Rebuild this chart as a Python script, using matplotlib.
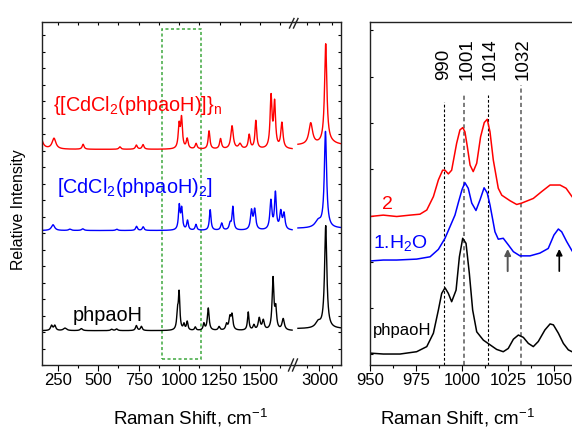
import numpy as np
import matplotlib
matplotlib.use('Agg')
import matplotlib.pyplot as plt
from matplotlib.lines import Line2D
from matplotlib.patches import Rectangle
from matplotlib.ticker import MultipleLocator, FixedLocator, NullFormatter

plt.rcParams['font.family'] = ['Liberation Sans', 'DejaVu Sans']
plt.rcParams['mathtext.default'] = 'regular'

# ---------------- data: left panel (peak position cm-1, height, FWHM) --------------
red_base_low = 13.07
red_peaks_low = [(140, 1.0, 30), (227, 0.65, 28), (407, 0.3, 14), (634, 0.15, 14),
                 (736, 0.25, 14), (777, 0.28, 14), (1000, 1.4, 13), (1015, 1.8, 13),
                 (1050, 0.6, 14), (1105, 0.33, 14), (1185, 1.1, 13), (1256, 0.62, 14),
                 (1327, 1.4, 18), (1376, 0.3, 20), (1433, 0.85, 14), (1474, 1.7, 13),
                 (1568, 3.1, 14), (1590, 2.7, 14), (1635, 1.55, 16)]
red_base_high = 13.32
red_peaks_high = [(2965, 1.3, 18), (3026, 6.0, 11), (3040, 0.15, 60)]

blue_base_low = 8.15
blue_peaks_low = [(221, 0.35, 24), (325, 0.08, 18), (405, 0.1, 18), (615, 0.08, 15),
                  (737, 0.25, 13), (778, 0.22, 13), (1001, 1.45, 12), (1016, 1.25, 12),
                  (1052, 0.58, 12), (1104, 0.35, 12), (1192, 1.25, 12), (1263, 0.43, 14),
                  (1315, 0.38, 14), (1332, 1.4, 12), (1447, 1.15, 15), (1467, 1.2, 15),
                  (1567, 1.75, 15), (1595, 2.2, 13), (1628, 1.05, 15), (1648, 0.95, 15)]
blue_base_high = 8.28
blue_peaks_high = [(2995, 0.4, 30), (3025, 5.8, 11)]

black_base_low = 2.08
black_peaks_low = [(212, 0.3, 15), (232, 0.3, 15), (295, 0.15, 24), (396, 0.12, 18),
                   (583, 0.08, 15), (614, 0.1, 15), (736, 0.3, 13), (767, 0.25, 13),
                   (990, 1.0, 11), (1000, 2.2, 11), (1030, 0.35, 11), (1050, 0.52, 11),
                   (1100, 0.2, 11), (1153, 0.4, 11), (1180, 1.35, 13), (1247, 0.22, 13),
                   (1293, 0.35, 13), (1314, 0.75, 15), (1327, 0.85, 13), (1427, 1.1, 11),
                   (1462, 0.3, 13), (1495, 0.72, 15), (1520, 0.58, 15), (1580, 3.1, 13),
                   (1597, 1.2, 13), (1643, 0.68, 17)]
black_base_high = 2.2
black_peaks_high = [(2995, 0.35, 25), (3026, 6.2, 11)]

# ---------------- data: right panel (sampled curves) ----------------
red_x = [950, 957.2, 964.5, 971.7, 977.1, 980.8, 984.4, 987.1, 989.4, 990.7, 992.5, 994.3,
         997, 998.8, 1000.3, 1001.5, 1002.8, 1004.3, 1006, 1007.9, 1010, 1012, 1013.6,
         1015.1, 1016.9, 1019.6, 1021.5, 1026, 1029.6, 1032.3, 1038.6, 1043.2, 1047.7,
         1053.1, 1056.4, 1059.6]
red_y = [2.98, 3.01, 2.98, 3.01, 3.03, 3.12, 3.41, 3.77, 3.98, 3.98, 3.90, 3.98,
         4.56, 4.85, 4.90, 4.81, 4.49, 4.09, 3.95, 4.13, 4.70, 5.01, 5.08,
         4.81, 4.20, 3.59, 3.44, 3.32, 3.24, 3.27, 3.37, 3.52, 3.66,
         3.66, 3.59, 3.41]

blue_x = [950, 957.2, 964.5, 975.3, 982.6, 987.1, 990.7, 993.4, 996.1, 998, 1000, 1001.5,
          1003.3, 1005.2, 1007.5, 1009.7, 1011.9, 1013.6, 1015.1, 1016.6, 1017.8, 1019.6,
          1022.3, 1025, 1027.8, 1031.4, 1036.8, 1042.2, 1046.7, 1049.8, 1052.2, 1054,
          1056.7, 1059.6]
blue_y = [2.02, 2.04, 2.04, 2.06, 2.11, 2.27, 2.51, 2.76, 3.01, 3.29, 3.57, 3.71,
          3.59, 3.27, 3.11, 3.34, 3.60, 3.49, 3.23, 2.91, 2.65, 2.49,
          2.51, 2.37, 2.22, 2.13, 2.13, 2.19, 2.29, 2.58, 2.71, 2.65,
          2.44, 2.24]

black_x = [950, 957.2, 966.3, 975.3, 980.8, 984.4, 987.1, 988.9, 990.7, 992.5, 994.3, 996.7,
           998.5, 1000.3, 1002.1, 1003.9, 1005.7, 1007.9, 1011.5, 1015.1, 1018.7, 1022.3,
           1025, 1027.8, 1030.5, 1033.2, 1035.9, 1038.6, 1041.3, 1044.9, 1047.7, 1049.5,
           1052.2, 1054.9, 1057.6, 1059.6]
black_y = [0.03, 0.01, 0.01, 0.06, 0.17, 0.46, 0.96, 1.32, 1.44, 1.32, 1.14, 1.39,
           2.11, 2.51, 2.40, 1.75, 0.96, 0.49, 0.31, 0.21, 0.11, 0.06,
           0.13, 0.33, 0.42, 0.37, 0.24, 0.17, 0.28, 0.53, 0.66, 0.64,
           0.46, 0.24, 0.10, 0.06]

marker_lines = [990, 1001, 1014, 1032]
marker_labels = ['990', '1001', '1014', '1032']
arrow_x = [1024.7, 1052.7]


def spectrum(x, base, peaks):
    y = np.full_like(x, base, dtype=float)
    for p, h, w in peaks:
        y += h / (1.0 + ((x - p) / (w / 2.0)) ** 2)
    return y


W, H = 572, 429
fig = plt.figure(figsize=(W / 100, H / 100), dpi=100)


def px_axes(x0, x1, y0, y1):
    return fig.add_axes([x0 / W, 1 - y1 / H, (x1 - x0) / W, (y1 - y0) / H])


ax1 = px_axes(42, 295, 22, 365)
ax2 = px_axes(295, 340.7, 22, 365)
ax3 = px_axes(370, 572, 22, 365)

lw_sp = 1.0
x_low = np.linspace(153, 1698, 4000)
x_high = np.linspace(2913, 3087, 800)
for base_l, pk_l, base_h, pk_h, col in [
        (red_base_low, red_peaks_low, red_base_high, red_peaks_high, '#ff0000'),
        (blue_base_low, blue_peaks_low, blue_base_high, blue_peaks_high, '#0000ff'),
        (black_base_low, black_peaks_low, black_base_high, black_peaks_high, '#000000')]:
    ax1.plot(x_low, spectrum(x_low, base_l, pk_l), color=col, lw=lw_sp)
    ax2.plot(x_high, spectrum(x_high, base_h, pk_h), color=col, lw=lw_sp)

ax1.set_xlim(153, 1716)
ax2.set_xlim(2901, 3087)
for a in (ax1, ax2):
    a.set_ylim(0, 20.79)
    a.yaxis.set_major_locator(MultipleLocator(1))
    a.yaxis.set_major_formatter(NullFormatter())
    for s in a.spines.values():
        s.set_linewidth(1.0)
        s.set_color('#222222')
ax1.spines['right'].set_visible(False)
ax2.spines['left'].set_visible(False)
ax1.tick_params(axis='y', direction='in', length=2.2, width=0.8, left=True, right=False)
ax2.tick_params(axis='y', direction='in', length=2.2, width=0.8, left=False, right=True)

ax1.xaxis.set_major_locator(FixedLocator([250, 500, 750, 1000, 1250, 1500]))
ax1.xaxis.set_minor_locator(FixedLocator([375, 625, 875, 1125, 1375, 1625]))
ax2.xaxis.set_major_locator(FixedLocator([3000]))
ax2.xaxis.set_minor_locator(FixedLocator([2950, 3050]))
for a in (ax1, ax2, ax3):
    a.tick_params(axis='x', which='major', direction='out', length=4.5, width=0.8,
                  labelsize=12, pad=1.5, top=False)
    a.tick_params(axis='x', which='minor', direction='out', length=2.5, width=0.8, top=False)
    sec = a.secondary_xaxis('top')
    sec.xaxis.set_major_locator(FixedLocator(a.xaxis.get_majorticklocs()))
    sec.xaxis.set_minor_locator(FixedLocator(a.xaxis.get_minorticklocs()))
    sec.tick_params(which='both', direction='in', length=2.2, width=0.8, labeltop=False)
    sec.spines['top'].set_visible(False)

# green dotted box
ax1.add_patch(Rectangle((892.6, 0.345), 1133.6 - 892.6, 20.35 - 0.345, fill=False,
                        edgecolor='#3fa83f', lw=1.1, linestyle=(0, (2, 1.6))))

# left panel labels
ax1.text(221, 15.39, '{[CdCl$_2$(phpaoH)]}$_n$', color='#ff0000', fontsize=14.3,
         ha='left', va='baseline')
ax1.text(244, 10.44, '[CdCl$_2$(phpaoH)$_2$]', color='#0000ff', fontsize=14.3,
         ha='left', va='baseline')
ax1.text(343, 2.68, 'phpaoH', color='#000000', fontsize=14.3, ha='left', va='baseline')

# right panel
ax3.plot(red_x, red_y, color='#ff0000', lw=1.1)
ax3.plot(blue_x, blue_y, color='#0000ff', lw=1.1)
ax3.plot(black_x, black_y, color='#000000', lw=1.1)
ax3.set_xlim(950, 1059.6)
ax3.set_ylim(-0.227, 7.181)
ax3.xaxis.set_major_locator(MultipleLocator(25))
ax3.xaxis.set_minor_locator(MultipleLocator(12.5))
ax3.yaxis.set_major_locator(MultipleLocator(1))
ax3.yaxis.set_major_formatter(NullFormatter())
ax3.tick_params(axis='y', direction='in', length=2.2, width=0.8)
ax3.spines['right'].set_visible(False)
for s in ('left', 'top', 'bottom'):
    ax3.spines[s].set_linewidth(1.0)
    ax3.spines[s].set_color('#222222')

line_tops = [5.46, 5.63, 5.60, 5.82]
line_cols = ['#000000', '#666666', '#000000', '#666666']
line_lws = [0.8, 1.2, 0.8, 1.2]
for xv, top, c, lw in zip(marker_lines, line_tops, line_cols, line_lws):
    ax3.plot([xv, xv], [-0.227, top], color=c, lw=lw, linestyle=(0, (2.5, 1.8)), zorder=1)
label_x = [989.8, 1002.9, 1015.1, 1033.3]
for xv, lab in zip(label_x, marker_labels):
    ax3.text(xv, 5.93, lab, rotation=90, ha='center', va='bottom', fontsize=13.5)

ax3.text(956.7, 3.14, '2', color='#ff0000', fontsize=14, ha='left', va='baseline')
ax3.text(951.6, 2.29, '1.H$_2$O', color='#0000ff', fontsize=14, ha='left', va='baseline')
ax3.text(951.6, 0.42, 'phpaoH', color='#000000', fontsize=12, ha='left', va='baseline')

ax3.annotate('', xy=(arrow_x[0], 2.34), xytext=(arrow_x[0], 1.74),
             arrowprops=dict(arrowstyle='-|>', color='#555555', lw=1.4, mutation_scale=9))
ax3.annotate('', xy=(arrow_x[1], 2.34), xytext=(arrow_x[1], 1.74),
             arrowprops=dict(arrowstyle='-|>', color='#000000', lw=1.2, mutation_scale=9))

# break marks
def fig_line(x0, y0, x1, y1):
    fig.add_artist(Line2D([x0 / W, x1 / W], [1 - y0 / H, 1 - y1 / H], color='#222222',
                          lw=1.0, transform=fig.transFigure))

fig_line(289.5, 28, 294, 18.5)
fig_line(293.5, 28, 298, 18.5)
fig_line(288.5, 371, 293.5, 359)
fig_line(292.5, 371, 297.5, 359)

# axis titles
fig.text(191 / W, 1 - 418 / H, 'Raman Shift, cm$^{-1}$', ha='center', va='center', fontsize=13.5)
fig.text(458 / W, 1 - 418 / H, 'Raman Shift, cm$^{-1}$', ha='center', va='center', fontsize=13.5)
fig.text(19 / W, 1 - 210 / H, 'Relative Intensity', rotation=90, ha='center', va='center',
         fontsize=11.4)

fig.savefig('out.png', dpi=100)
